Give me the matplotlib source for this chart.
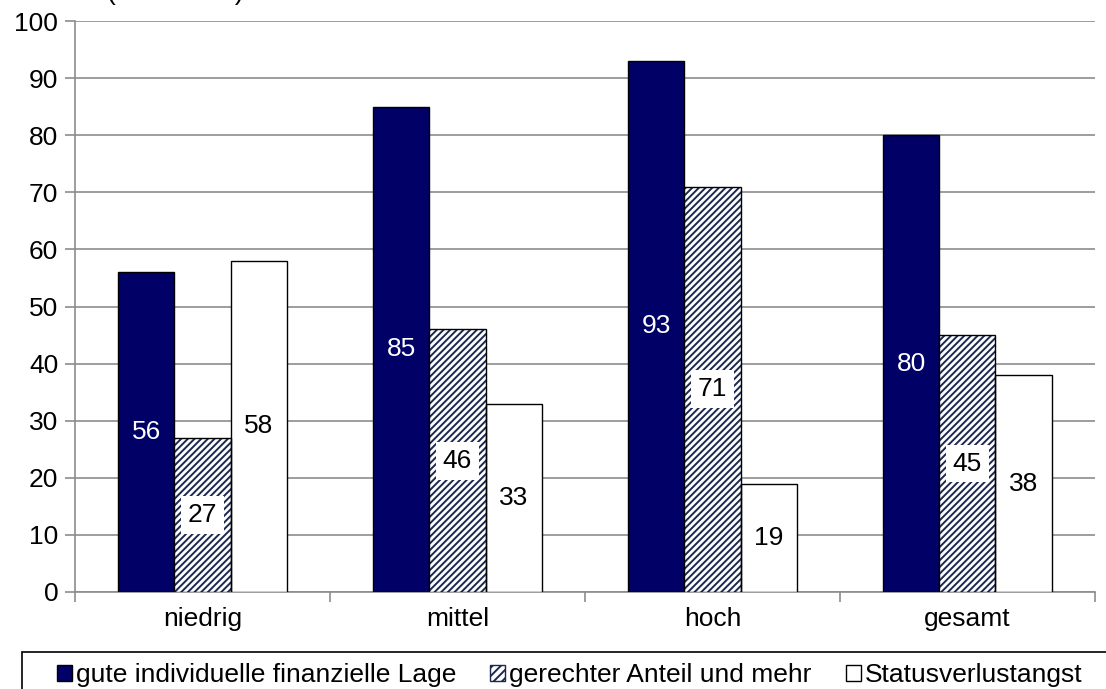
import numpy as np
import matplotlib
matplotlib.use("Agg")
import matplotlib.pyplot as plt
from matplotlib.patches import Patch, Rectangle

plt.rcParams['font.family'] = ['Liberation Sans', 'DejaVu Sans']
plt.rcParams['hatch.linewidth'] = 1.4

# data
categories = ['niedrig', 'mittel', 'hoch', 'gesamt']
lage = [56, 85, 93, 80]
anteil = [27, 46, 71, 45]
angst = [58, 33, 19, 38]
series_names = ['gute individuelle finanzielle Lage', 'gerechter Anteil und mehr', 'Statusverlustangst']

navy = '#000066'
hatch_col = '#1c2850'
grid_gray = '#8c8c8c'
fs = 19

fig = plt.figure(figsize=(11.06, 6.89), dpi=100)
ax = fig.add_axes([0.0678, 0.1408, 0.9222, 0.8287])

x = np.arange(len(categories))
w = 0.22

# dark bars
ax.bar(x - w, lage, w, color=navy, edgecolor='black', linewidth=1, zorder=3)
# hatched bars: hatch layer then outline
ax.bar(x, anteil, w, color='white', edgecolor=hatch_col, hatch='/////', linewidth=0, zorder=3)
ax.bar(x, anteil, w, fill=False, edgecolor='black', linewidth=1, zorder=4)
# white bars
ax.bar(x + w, angst, w, color='white', edgecolor='black', linewidth=1, zorder=3)

for i in range(len(categories)):
    ax.text(x[i] - w, lage[i] / 2, str(lage[i]), ha='center', va='center',
            fontsize=fs, color='white', zorder=5)
    ax.text(x[i], anteil[i] / 2, str(anteil[i]), ha='center', va='center',
            fontsize=fs, color='black', zorder=5,
            bbox=dict(facecolor='white', edgecolor='none', pad=5))
    ax.text(x[i] + w, angst[i] / 2, str(angst[i]), ha='center', va='center',
            fontsize=fs, color='black', zorder=5)

ax.set_xlim(-0.5, len(categories) - 0.5)
ax.set_ylim(0, 100)
ax.set_yticks(range(0, 101, 10))
ax.yaxis.grid(True, color=grid_gray, linewidth=1.2, zorder=0)
ax.set_axisbelow(True)

ax.set_xticks(x)
ax.set_xticklabels(categories)
ax.set_xticks(np.arange(-0.5, len(categories), 1), minor=True)
ax.tick_params(axis='x', which='major', length=0, pad=11, labelsize=fs)
ax.tick_params(axis='x', which='minor', length=7, color=grid_gray, width=1.2)
ax.tick_params(axis='y', length=7, color=grid_gray, width=1.2, labelsize=fs, pad=5)

for s in ['top', 'right']:
    ax.spines[s].set_visible(False)
for s in ['left', 'bottom']:
    ax.spines[s].set_color(grid_gray)
    ax.spines[s].set_linewidth(1.2)

# clipped subtitle at the very top
fig.text(0.097, 1.0, '(in Prozent)', fontsize=fs, va='baseline', ha='left')

# legend frame (runs off the right and bottom edge)
fig.patches.append(Rectangle((22 / 1106, -0.05), 1.2, 1 - 652 / 689 + 0.05,
                             transform=fig.transFigure, facecolor='none',
                             edgecolor='black', linewidth=1.2))

handles = [
    Patch(facecolor=navy, edgecolor='black', label=series_names[0]),
    Patch(facecolor='white', edgecolor=hatch_col, hatch='////', label=series_names[1]),
    Patch(facecolor='white', edgecolor='black', label=series_names[2]),
]
leg = fig.legend(handles=handles, loc='center left', bbox_to_anchor=(57 / 1106, 1 - 675 / 689),
                 ncol=3, fontsize=fs, frameon=False,
                 handlelength=0.56, handleheight=0.56,
                 handletextpad=0.15, columnspacing=1.3, borderpad=0,
                 borderaxespad=0)

fig.savefig('out.png', dpi=100)
